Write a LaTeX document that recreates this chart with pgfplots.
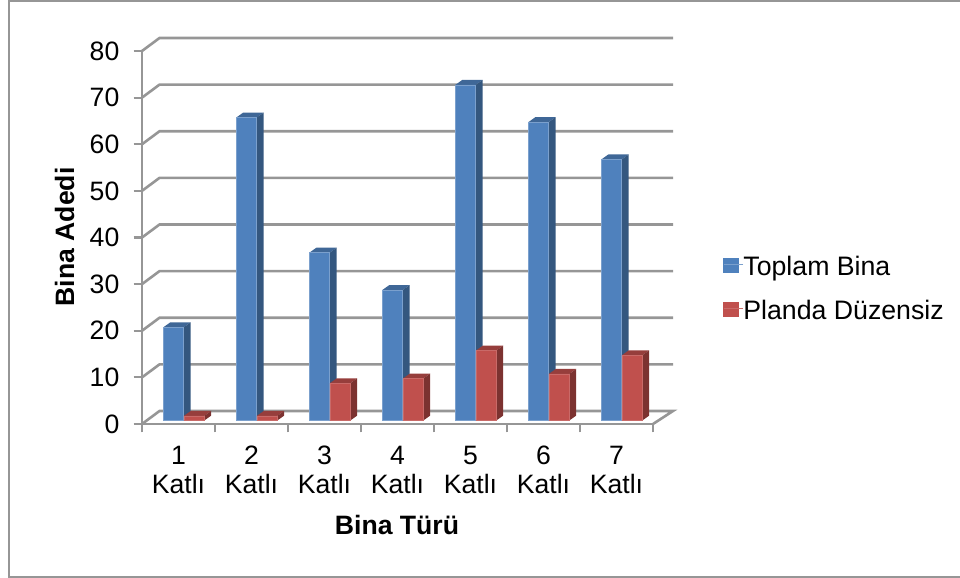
\documentclass[border=0pt]{standalone}
\usepackage{pgfplots}
\usepackage{pgfplotstable}
\usepackage{fontspec}
\pgfplotsset{compat=1.18}
\setmainfont{Liberation Sans}

\definecolor{totalfront}{HTML}{4F81BD}
\definecolor{totaltop}{HTML}{3F6797}
\definecolor{totalside}{HTML}{34577F}
\definecolor{irregfront}{HTML}{C0504D}
\definecolor{irregtop}{HTML}{963E3C}
\definecolor{irregside}{HTML}{7C3230}
\definecolor{gridgray}{HTML}{969696}
\definecolor{framegray}{HTML}{969696}

% number of buildings per storey class
\pgfplotstableread{
x    total irregular
0.5  20    1
1.5  65    1
2.5  36    8
3.5  28    9
4.5  72    15
5.5  64    10
6.5  56    14
}\buildings

% scale of the value axis and size of the bars' depth faces
\def\unitheight{4.6625}
\def\halfbar{10.2}
\def\depthx{7}
\def\depthy{5}

% top and side faces of a bar, drawn from the top front edge
\newcommand{\declaredepthmark}[3]{%
  \pgfdeclareplotmark{#1}{%
    \pgfmathsetmacro\barpx{\barval*\unitheight}%
    \pgfsetfillcolor{#2}%
    \pgfpathmoveto{\pgfpoint{-\halfbar bp}{0bp}}%
    \pgfpathlineto{\pgfpoint{\halfbar bp}{0bp}}%
    \pgfpathlineto{\pgfpoint{\halfbar bp+\depthx bp}{\depthy bp}}%
    \pgfpathlineto{\pgfpoint{-\halfbar bp+\depthx bp}{\depthy bp}}%
    \pgfpathclose
    \pgfusepath{fill}%
    \pgfsetfillcolor{#3}%
    \pgfpathmoveto{\pgfpoint{\halfbar bp}{0bp}}%
    \pgfpathlineto{\pgfpoint{\halfbar bp+\depthx bp}{\depthy bp}}%
    \pgfpathlineto{\pgfpoint{\halfbar bp+\depthx bp}{\depthy bp-\barpx bp}}%
    \pgfpathlineto{\pgfpoint{\halfbar bp}{-\barpx bp}}%
    \pgfpathclose
    \pgfusepath{fill}%
  }%
}
\declaredepthmark{depthtotal}{totaltop}{totalside}
\declaredepthmark{depthirregular}{irregtop}{irregside}

\pgfplotsset{
  depth faces/.style={
    forget plot, only marks, scatter, mark=#1,
    scatter/use mapped color={draw=none,fill=none},
    visualization depends on={y \as \barval},
  },
  legend swatch/.style={
    legend image code/.code={
      \fill[#1] (0bp,-8bp) rectangle (14.3bp,6.3bp);
      \path (0bp,0bp) -- (19.6bp,0bp);
    },
  },
}

\begin{document}
\fontsize{26.6bp}{29bp}\selectfont
\begin{tikzpicture}[x=1bp,y=1bp]
  \useasboundingbox (0,0) rectangle (960,578);
  \draw[framegray,line width=2bp] (960,577) -- (9.3,577) -- (9.3,1) -- (960,1);
  \begin{axis}[
    at={(142bp,154bp)}, anchor=south west,
    scale only axis, width=511bp, height=373bp,
    xmin=0, xmax=7, ymin=0, ymax=80,
    clip=false, clip mode=individual,
    axis x line*=bottom, axis y line*=left,
    axis line style={gridgray,line width=2.6bp},
    tick style={gridgray,line width=2.2bp},
    tick align=outside,
    major tick length=8.5bp,
    xtick={0,...,7},
    x tick label as interval,
    xticklabels={1\\Katlı,2\\Katlı,3\\Katlı,4\\Katlı,5\\Katlı,6\\Katlı,7\\Katlı},
    xticklabel style={align=center,font=\fontsize{26.6bp}{29bp}\selectfont,inner sep=0pt,yshift=-13.5bp},
    ytick={0,10,...,80},
    yticklabel style={font=\fontsize{26.6bp}{29bp}\selectfont,inner sep=0pt,xshift=-14bp},
    /pgf/number format/assume math mode=true,
    legend cell align=left,
    legend style={
      at={(581bp,134bp)}, anchor=west,
      draw=none, fill=none,
      font=\fontsize{26.7bp}{29bp}\selectfont,
      row sep=21bp, inner sep=0pt,
      nodes={inner sep=0pt},
    },
  ]
    % back wall grid lines and the diagonals that join them to the value axis
    \pgfplotsinvokeforeach{10,20,...,80}{
      \addplot[forget plot,gridgray,line width=2.6bp]
        coordinates {(0,#1) (0.240,#1+2.79) (7.274,#1+2.79)};
    }
    \addplot[forget plot,gridgray,line width=2.6bp]
      coordinates {(0,0) (0.240,2.79) (7.274,2.79) (7,0)};

    % total buildings
    \addplot[depth faces=depthtotal,xshift=-5bp,yshift=3.4bp]
      table[x=x,y=total] {\buildings};
    \addplot[ybar,bar width=20.4bp,bar shift=-5bp,yshift=3.4bp,
             draw=totalfront!75!white,line width=0.6bp,fill=totalfront,
             area legend,legend swatch=totalfront]
      table[x=x,y=total] {\buildings};
    \addlegendentry{Toplam Bina}

    % buildings with an irregular plan
    \addplot[depth faces=depthirregular,xshift=15.5bp,yshift=3.4bp]
      table[x=x,y=irregular] {\buildings};
    \addplot[ybar,bar width=20.4bp,bar shift=15.5bp,yshift=3.4bp,
             draw=irregfront!85!white,line width=0.6bp,fill=irregfront,
             area legend,legend swatch=irregfront]
      table[x=x,y=irregular] {\buildings};
    \addlegendentry{Planda Düzensiz}
  \end{axis}
  \node[font=\fontsize{26.6bp}{29bp}\selectfont\bfseries] at (397,578-525) {Bina Türü};
  \node[font=\fontsize{26.6bp}{29bp}\selectfont\bfseries,rotate=90] at (64.5,578-237) {Bina Adedi};
\end{tikzpicture}
\end{document}
